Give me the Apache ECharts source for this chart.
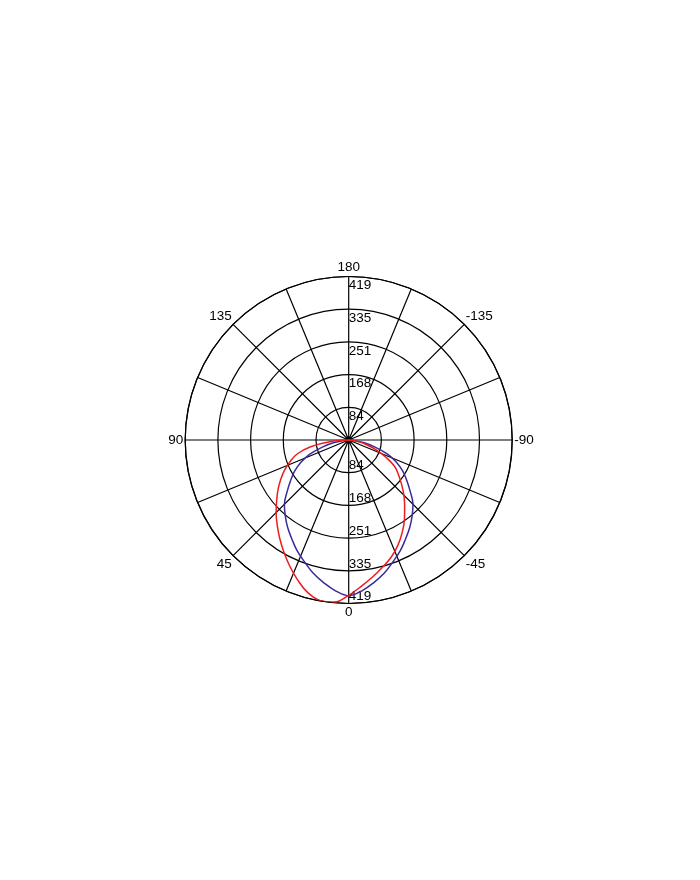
<!DOCTYPE html>
<html>
<head>
<meta charset="utf-8">
<script src="https://cdn.jsdelivr.net/npm/echarts@6/dist/echarts.min.js"></script>
<style>
html,body{margin:0;padding:0;background:#fff;}
#chart{width:700px;height:880px;}
</style>
</head>
<body>
<div id="chart"></div>
<script>
// Angles (degrees, 0 = straight down, positive to the left)
var angles = [-90,-85,-80,-75,-70,-65,-60,-55,-50,-45,-40,-35,-30,-25,-20,-15,-10,-5,0,5,10,15,20,25,30,35,40,45,50,55,60,65,70,75,80,85,90];
// Blue plane (symmetric)
var blueValues = [0,12,38,70,106,135,160,182,206,233,253,273,292,313,332,353,371,388,399,388,371,353,332,313,292,273,253,233,206,182,160,135,106,70,38,12,0];
// Red plane (tilted)
var redValues = [0,10,28,48,77,106,136,156,177,200,223,249,274,298,319,337,356,376,398,417,418,405,382,357,332,308,285,263,241,221,201,181,159,136,99,49,0];
// Radius scale
var radiusMax = 419;
var radiusStep = 83.8;

var FONT = "'Liberation Sans',Arial,sans-serif";
var FSIZE = 13.5;

function pairs(vals){
  var out = [];
  for (var i = 0; i < angles.length; i++) out.push([vals[i], angles[i]]);
  return out;
}

var chart = echarts.init(document.getElementById('chart'), null, {renderer:'canvas'});
var center = [348.7, 440];
var radius = 163.5;

var option = {
  backgroundColor: '#ffffff',
  animation: false,
  polar: [
    {center: center, radius: radius},
    {center: center, radius: radius}
  ],
  angleAxis: [
    {
      polarIndex: 0,
      type: 'value',
      min: -180, max: 180, interval: 22.5,
      startAngle: 90, clockwise: true,
      axisLine: {show: true, lineStyle: {color: '#000', width: 1.2}},
      axisTick: {show: false},
      splitLine: {show: true, lineStyle: {color: '#000', width: 1.2}},
      axisLabel: {
        show: true, margin: 2, color: '#000', fontSize: FSIZE, fontFamily: FONT,
        formatter: function(v){
          if (Math.abs(v) === 180) return '180';
          if (Math.abs(v % 45) > 1e-6) return '';
          return String(v);
        }
      }
    },
    {
      polarIndex: 1,
      type: 'value',
      min: -180, max: 180, interval: 22.5,
      startAngle: 270, clockwise: true,
      axisLine: {show: false}, axisTick: {show: false},
      splitLine: {show: false}, axisLabel: {show: false}
    }
  ],
  radiusAxis: [
    {
      polarIndex: 0,
      type: 'value', min: 0, max: radiusMax, interval: radiusStep,
      axisLine: {show: false}, axisTick: {show: false},
      splitLine: {show: true, lineStyle: {color: '#000', width: 1.2}},
      axisLabel: {
        show: true, margin: 0, align: 'left', verticalAlign: 'top',
        padding: [2, 0, 0, 0],
        color: '#000', fontSize: FSIZE, fontFamily: FONT,
        formatter: function(v){ return v === 0 ? '' : String(Math.round(v)); }
      }
    },
    {
      polarIndex: 1,
      type: 'value', min: 0, max: radiusMax, interval: radiusStep,
      axisLine: {show: false}, axisTick: {show: false},
      splitLine: {show: false},
      axisLabel: {
        show: true, margin: 0, align: 'left', verticalAlign: 'bottom',
        color: '#000', fontSize: FSIZE, fontFamily: FONT,
        formatter: function(v){ return v === 0 ? '' : String(Math.round(v)); }
      }
    }
  ],
  series: [
    {
      name: 'C0-C180', type: 'line', coordinateSystem: 'polar', polarIndex: 0,
      data: pairs(blueValues), smooth: 0.4, showSymbol: false,
      lineStyle: {color: '#3b2a9c', width: 1.5}, z: 3
    },
    {
      name: 'C90-C270', type: 'line', coordinateSystem: 'polar', polarIndex: 0,
      data: pairs(redValues), smooth: 0.4, showSymbol: false,
      lineStyle: {color: '#ee1c1c', width: 1.5}, z: 4
    }
  ]
};
chart.setOption(option);
</script>
</body>
</html>
